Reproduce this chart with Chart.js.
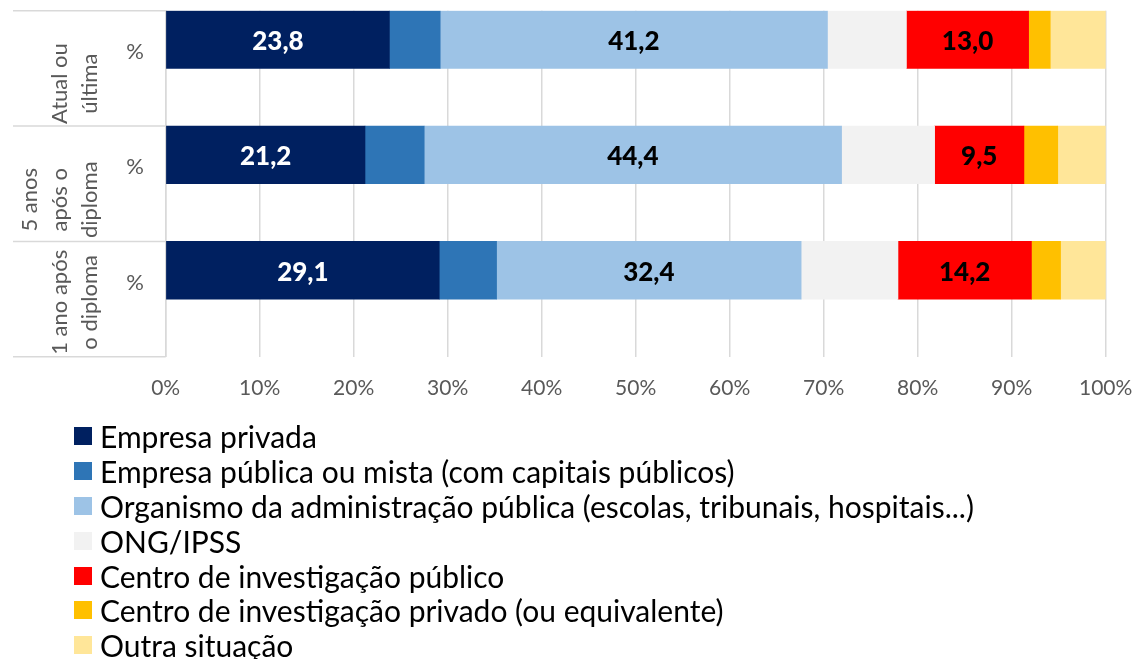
<!DOCTYPE html>
<html>
<head>
<meta charset="utf-8">
<script src="https://cdn.jsdelivr.net/npm/chart.js@4/dist/chart.umd.min.js"></script>
<style>
  html, body { margin: 0; padding: 0; background: #ffffff; }
  #wrap { position: relative; width: 1136px; height: 659px; overflow: hidden; }
  #c { position: absolute; left: 0; top: 0; }
  #legend { position: absolute; left: 74px; top: 419px; font-family: Lato, "Open Sans", sans-serif; font-size: 30px; color: #000; }
  .item { display: flex; align-items: center; height: 34.8px; white-space: nowrap; }
  .box { width: 18px; height: 18px; margin-right: 8px; flex: none; }
</style>
</head>
<body>
<div id="wrap">
  <canvas id="c" width="1136" height="420"></canvas>
  <div id="legend"></div>
</div>
<script>
// ---- data ----
const categories = ['Atual ou última', '5 anos após o diploma', '1 ano após o diploma'];
const categoryLines = [['Atual ou', 'última'], ['5 anos', 'após o', 'diploma'], ['1 ano após', 'o diploma']];
const subLabel = '%';
const seriesNames = [
  'Empresa privada',
  'Empresa pública ou mista (com capitais públicos)',
  'Organismo da administração pública (escolas, tribunais, hospitais...)',
  'ONG/IPSS',
  'Centro de investigação público',
  'Centro de investigação privado (ou equivalente)',
  'Outra situação'
];
const empresaPrivada = [23.8, 21.2, 29.1];
const empresaPublica = [5.4, 6.3, 6.1];
const organismoPublico = [41.2, 44.4, 32.4];
const ongIpss = [8.4, 9.9, 10.3];
const centroPublico = [13.0, 9.5, 14.2];
const centroPrivado = [2.3, 3.6, 3.1];
const outraSituacao = [5.9, 5.1, 4.8];
const xTickValues = [0, 10, 20, 30, 40, 50, 60, 70, 80, 90, 100];
const xTickLabels = ['0%', '10%', '20%', '30%', '40%', '50%', '60%', '70%', '80%', '90%', '100%'];

// ---- styling ----
const seriesValues = [empresaPrivada, empresaPublica, organismoPublico, ongIpss, centroPublico, centroPrivado, outraSituacao];
const seriesColors = ['#002060', '#2E75B6', '#9DC3E6', '#F2F2F2', '#FF0000', '#FFC000', '#FFE699'];
const labelColors = ['#FFFFFF', null, '#000000', null, '#000000', null, null];
const GRID = '#D9D9D9';
const FONT = 'Lato, "Open Sans", sans-serif';

// each category occupies two slots: the bar slot and an empty slot below it
const slotLabels = [];
categories.forEach(() => { slotLabels.push(''); slotLabels.push(''); });
function toSlots(arr) {
  const out = [];
  arr.forEach(v => { out.push(v); out.push(null); });
  return out;
}

const datasets = seriesNames.map((name, i) => ({
  label: name,
  data: toSlots(seriesValues[i]),
  backgroundColor: seriesColors[i],
  borderWidth: 0,
  barPercentage: 1.0,
  categoryPercentage: 1.0,
  _labelColor: labelColors[i]
}));

const sidePlugin = {
  id: 'sideLabels',
  afterDraw(chart) {
    const ctx = chart.ctx;
    const a = chart.chartArea;
    const bandH = (a.bottom - a.top) / categories.length;
    ctx.save();
    ctx.strokeStyle = GRID;
    ctx.lineWidth = 1.5;
    for (let i = 0; i <= categories.length; i++) {
      const y = a.top + i * bandH;
      ctx.beginPath();
      ctx.moveTo(13, y);
      ctx.lineTo(a.left, y);
      ctx.stroke();
    }
    ctx.fillStyle = '#595959';
    ctx.font = '22px ' + FONT;
    ctx.textAlign = 'center';
    ctx.textBaseline = 'middle';
    categories.forEach((c, i) => {
      const top = a.top + i * bandH;
      const bottom = top + bandH;
      ctx.fillText(subLabel, 135, top + 41);
      const lines = categoryLines[i];
      let maxW = 0;
      lines.forEach(l => { maxW = Math.max(maxW, ctx.measureText(l).width); });
      const cy = Math.min(top + bandH / 2 + 16, bottom - maxW / 2 - 2);
      lines.forEach((l, j) => {
        const x = 90 - (lines.length - 1 - j) * 30;
        ctx.save();
        ctx.translate(x, cy);
        ctx.rotate(-Math.PI / 2);
        ctx.fillText(l, 0, 0);
        ctx.restore();
      });
    });
    ctx.restore();
  },
  afterDatasetsDraw(chart) {
    const ctx = chart.ctx;
    ctx.save();
    ctx.font = '900 26px ' + FONT;
    ctx.textAlign = 'center';
    ctx.textBaseline = 'middle';
    chart.data.datasets.forEach((ds, di) => {
      if (!ds._labelColor) return;
      const meta = chart.getDatasetMeta(di);
      meta.data.forEach((el, k) => {
        const v = ds.data[k];
        if (v === null || v === undefined) return;
        const cx = (el.x + el.base) / 2;
        ctx.fillStyle = ds._labelColor;
        ctx.fillText(v.toFixed(1).replace('.', ','), cx, el.y + 2);
      });
    });
    ctx.restore();
  }
};

const chart = new Chart(document.getElementById('c'), {
  type: 'bar',
  data: { labels: slotLabels, datasets },
  plugins: [sidePlugin],
  options: {
    indexAxis: 'y',
    responsive: false,
    animation: false,
    layout: { padding: { left: 0, right: 30.3, top: 10.7, bottom: 0 } },
    plugins: { legend: { display: false }, tooltip: { enabled: false } },
    scales: {
      x: {
        stacked: true,
        min: 0,
        max: 100,
        afterBuildTicks(scale) { scale.ticks = xTickValues.map(v => ({ value: v })); },
        afterFit(scale) { scale.paddingLeft = 0; scale.paddingRight = 0; },
        ticks: {
          callback: (v) => xTickLabels[xTickValues.indexOf(v)],
          color: '#595959',
          font: { family: FONT, size: 21 },
          padding: 19,
          maxRotation: 0,
          autoSkip: false
        },
        grid: { color: GRID, lineWidth: 1.5, drawTicks: false },
        border: { display: false }
      },
      y: {
        stacked: true,
        offset: true,
        ticks: { display: false },
        grid: { display: false, drawTicks: false },
        border: { display: true, color: GRID, width: 1.5 },
        afterFit(scale) { scale.width = 165.7; }
      }
    }
  }
});

// HTML legend generated from the chart's datasets
const legendEl = document.getElementById('legend');
chart.data.datasets.forEach(ds => {
  const item = document.createElement('div');
  item.className = 'item';
  const box = document.createElement('span');
  box.className = 'box';
  box.style.background = ds.backgroundColor;
  const txt = document.createElement('span');
  txt.textContent = ds.label;
  item.appendChild(box);
  item.appendChild(txt);
  legendEl.appendChild(item);
});
</script>
</body>
</html>
